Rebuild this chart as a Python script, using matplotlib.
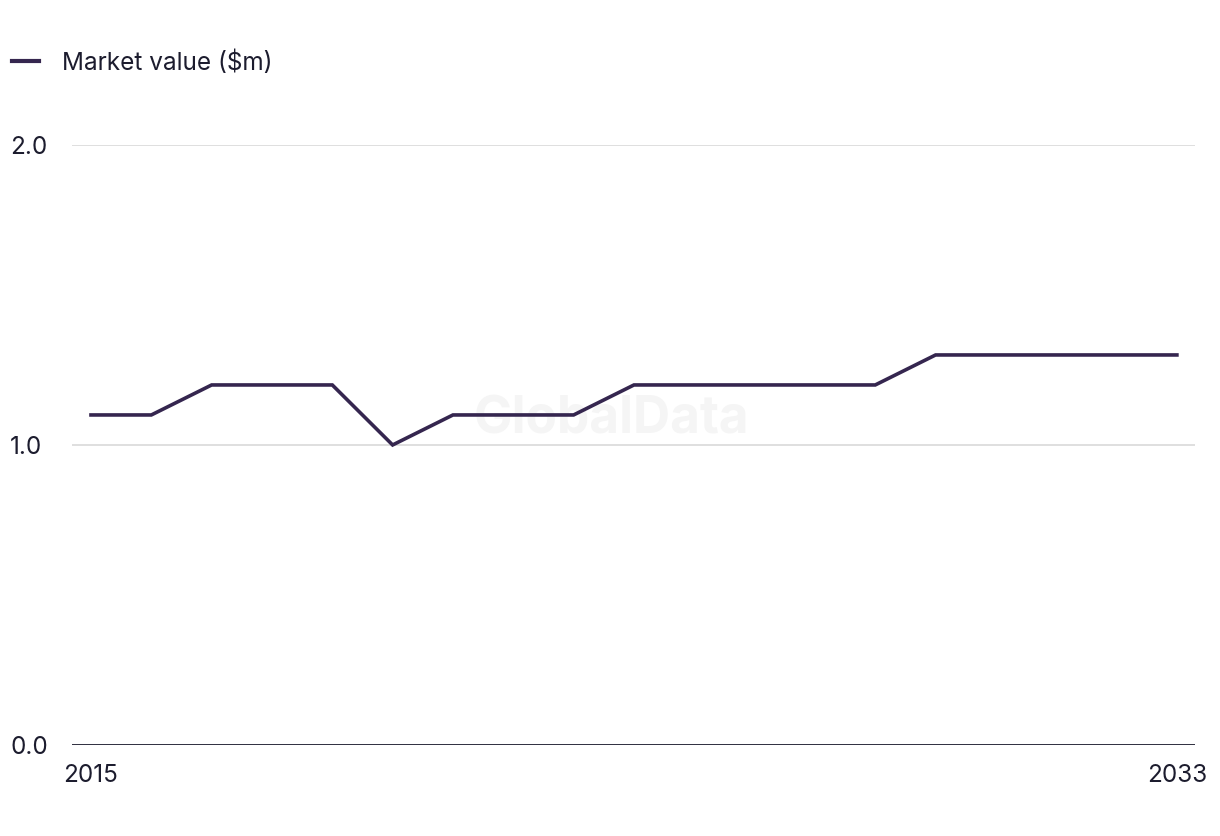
import matplotlib.pyplot as plt

years = list(range(2015, 2034))
values = [1.1, 1.1, 1.2, 1.2, 1.2, 1.0, 1.1, 1.1, 1.1, 1.2,
          1.2, 1.2, 1.2, 1.2, 1.3, 1.3, 1.3, 1.3, 1.3]
y_ticks = [0.0, 1.0, 2.0]
x_ticks = [2015, 2033]

line_color = '#35264f'
text_color = '#1c1c2e'

plt.rcParams['font.family'] = ['Inter', 'DejaVu Sans']

fig = plt.figure(figsize=(12.2, 8.36), dpi=100)
ax = fig.add_axes([0.059, 0.1089, 0.9205, 0.7177])

ax.plot(years, values, color=line_color, linewidth=2.6,
        solid_joinstyle='miter', label='Market value ($m)', zorder=3)

ax.set_xlim(2014.685, 2033.3)
ax.set_ylim(0, 2.0)

# gridlines
for t in y_ticks[1:]:
    ax.axhline(t, color='#d9d9d9', linewidth=1.2, zorder=1)
ax.axhline(0, color=text_color, linewidth=2.0, zorder=2)

for s in ax.spines.values():
    s.set_visible(False)

ax.set_yticks(y_ticks)
ax.set_yticklabels([f'{t:.1f}' for t in y_ticks])
ax.set_xticks(x_ticks)
ax.set_xticklabels([str(x) for x in x_ticks])
ax.tick_params(axis='both', length=0, labelsize=17.5, labelcolor=text_color)
ax.tick_params(axis='x', pad=14)
for lbl in ax.get_yticklabels():
    lbl.set_horizontalalignment('left')
ax.tick_params(axis='y', pad=44.5)

# watermark
ax.text(0.48, 0.542, 'GlobalData', transform=ax.transAxes, ha='center', va='center',
        fontsize=37, fontweight='bold', color='#f5f5f5', zorder=0)

leg = fig.legend(loc='upper left', bbox_to_anchor=(-0.008, 0.966), frameon=False,
                 fontsize=17.5, handlelength=1.1, handletextpad=0.95)
for t in leg.get_texts():
    t.set_color(text_color)
for h in leg.legend_handles:
    h.set_linewidth(3)

fig.savefig('out.png', dpi=100)
